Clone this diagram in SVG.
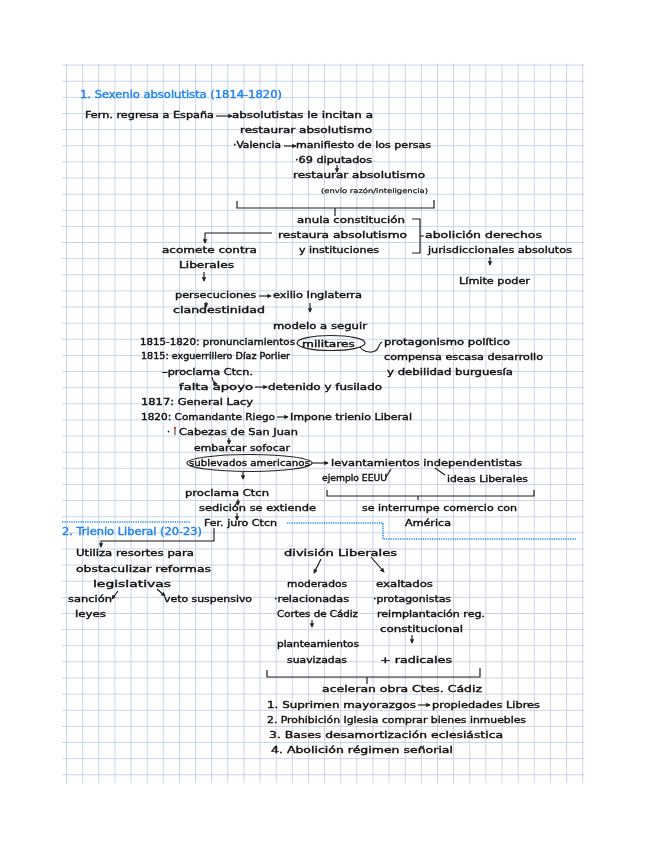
<svg xmlns="http://www.w3.org/2000/svg" width="648" height="848" viewBox="0 0 648 848">
<defs>
<marker id="ah" viewBox="0 0 6 6" refX="5" refY="3" markerWidth="4.5" markerHeight="4.5" markerUnits="userSpaceOnUse" orient="auto"><path d="M0 0L6 3L0 6Z" fill="#222"/></marker>
<pattern id="cells" x="66" y="64.6" width="16.13" height="16.13" patternUnits="userSpaceOnUse"><path d="M0 0V16.13M0 0H16.13" fill="none" stroke="#c6d4e8" stroke-width="2"/></pattern>
<filter id="soft" x="-5%" y="-5%" width="110%" height="110%"><feGaussianBlur stdDeviation="0.35"/></filter>
</defs>
<style>
text{font-family:"DejaVu Sans","Liberation Sans",sans-serif;font-size:9.5px;fill:#111;stroke:#111;stroke-width:.4}
.b{fill:#1f82f2;stroke:#1f82f2;font-size:10.5px}
.s{font-size:6.5px;stroke-width:.2}
.c{fill:none;stroke:#222;stroke-width:1.2}
.a{fill:none;stroke:#111;stroke-width:1.1;marker-end:url(#ah)}
.d{fill:none;stroke:#2f8ef2;stroke-width:1.6;stroke-dasharray:1.3 1}
</style>
<rect width="648" height="848" fill="#fff"/>
<g id="grid"><rect x="62" y="64" width="522" height="719" fill="url(#cells)"/></g>
<g id="content" filter="url(#soft)">
<g id="connectors">
<path class="a" d="M216 116H232"/><path class="a" d="M284 146H296"/><path class="a" d="M337 165V172"/>
<path class="c" d="M237 201V208H434V200M335 208V216"/>
<path class="a" d="M272 233H205V243"/><path class="a" d="M204 272V281"/>
<path class="c" d="M412 219H420V253H412M420 236H424"/>
<path class="a" d="M490 257V265"/>
<path class="a" d="M259 296H271"/><path class="a" d="M206 302V307"/><path class="a" d="M310 303V312"/>
<path class="c" d="M360 347C364 353 375 354 378 348Q380 343 382 342"/>
<path class="a" d="M212 377Q213 383 217 384"/><path class="a" d="M255 387H267"/>
<path class="a" d="M277 417H288"/><path class="a" d="M229 438V444"/>
<path class="a" d="M312 463H328"/><path class="c" d="M391 469L386 477"/><path class="c" d="M435 468L445 475"/>
<path class="a" d="M243 472V479"/><path class="a" d="M238 499V505"/><path class="a" d="M237 513V520"/>
<path class="c" d="M327 490V496H534V490M418 496V500"/>
<path class="d" d="M62 522H190"/><path class="d" d="M287 523H383V539H577"/>
<path class="a" d="M214 528V541H101V547"/>
<path class="a" d="M118 591L112 599"/><path class="a" d="M157 589L165 596"/>
<path class="a" d="M321 559L314 573"/><path class="a" d="M371 557L384 572"/>
<path class="a" d="M312 620V627"/><path class="a" d="M412 635V643"/>
<path class="c" d="M267 670V677H480V668M367 677V684"/>
<path class="a" d="M418 705H430"/>
</g>
<g id="n-title1"><text class="b" x="80" y="98" textLength="202" lengthAdjust="spacingAndGlyphs">1. Sexenio absolutista (1814-1820)</text></g>
<g id="n1"><text x="85" y="118" textLength="129" lengthAdjust="spacingAndGlyphs">Fern. regresa a España</text></g>
<g id="n2"><text x="232" y="118" textLength="141" lengthAdjust="spacingAndGlyphs">absolutistas le incitan a</text></g>
<g id="n3"><text x="240" y="133" textLength="132" lengthAdjust="spacingAndGlyphs">restaurar absolutismo</text></g>
<g id="n4"><text x="233" y="148" textLength="48" lengthAdjust="spacingAndGlyphs">·Valencia</text></g>
<g id="n5"><text x="296" y="148" textLength="135" lengthAdjust="spacingAndGlyphs">manifiesto de los persas</text></g>
<g id="n6"><text x="295" y="163" textLength="77" lengthAdjust="spacingAndGlyphs">·69 diputados</text></g>
<g id="n7"><text x="293" y="178" textLength="132" lengthAdjust="spacingAndGlyphs">restaurar absolutismo</text></g>
<g id="n8"><text class="s" x="321" y="193" textLength="107" lengthAdjust="spacingAndGlyphs">(envío razón/inteligencia)</text></g>
<g id="n9"><text x="297" y="223" textLength="108" lengthAdjust="spacingAndGlyphs">anula constitución</text></g>
<g id="n10"><text x="278" y="238" textLength="129" lengthAdjust="spacingAndGlyphs">restaura absolutismo</text></g>
<g id="n11"><text x="299" y="253" textLength="80" lengthAdjust="spacingAndGlyphs">y instituciones</text></g>
<g id="n12"><text x="162" y="253" textLength="95" lengthAdjust="spacingAndGlyphs">acomete contra</text></g>
<g id="n13"><text x="179" y="268" textLength="55" lengthAdjust="spacingAndGlyphs">Liberales</text></g>
<g id="n14"><text x="425" y="238" textLength="117" lengthAdjust="spacingAndGlyphs">abolición derechos</text></g>
<g id="n15"><text x="428" y="253" textLength="144" lengthAdjust="spacingAndGlyphs">jurisdiccionales absolutos</text></g>
<g id="n16"><text x="459" y="284" textLength="71" lengthAdjust="spacingAndGlyphs">Límite poder</text></g>
<g id="n17"><text x="175" y="298" textLength="81" lengthAdjust="spacingAndGlyphs">persecuciones</text></g>
<g id="n18"><text x="273" y="298" textLength="89" lengthAdjust="spacingAndGlyphs">exilio Inglaterra</text></g>
<g id="n19"><text x="173" y="313" textLength="92" lengthAdjust="spacingAndGlyphs">clandestinidad</text></g>
<g id="n20"><text x="273" y="329" textLength="94" lengthAdjust="spacingAndGlyphs">modelo a seguir</text></g>
<g id="n21"><text x="140" y="345" textLength="155" lengthAdjust="spacingAndGlyphs">1815-1820: pronunciamientos</text></g>
<g id="n22"><ellipse class="c" cx="331" cy="343" rx="34" ry="7.5"/><text x="302" y="347" textLength="53" lengthAdjust="spacingAndGlyphs">militares</text></g>
<g id="n23"><text x="384" y="345" textLength="126" lengthAdjust="spacingAndGlyphs">protagonismo político</text></g>
<g id="n24"><text x="384" y="360" textLength="159" lengthAdjust="spacingAndGlyphs">compensa escasa desarrollo</text></g>
<g id="n25"><text x="387" y="375" textLength="126" lengthAdjust="spacingAndGlyphs">y debilidad burguesía</text></g>
<g id="n26"><text x="141" y="359" textLength="149" lengthAdjust="spacingAndGlyphs">1815: exguerrillero Díaz Porlier</text></g>
<g id="n27"><text x="162" y="375" textLength="91" lengthAdjust="spacingAndGlyphs">–proclama Ctcn.</text></g>
<g id="n28"><text x="179" y="390" textLength="74" lengthAdjust="spacingAndGlyphs">falta apoyo</text></g>
<g id="n29"><text x="268" y="390" textLength="114" lengthAdjust="spacingAndGlyphs">detenido y fusilado</text></g>
<g id="n30"><text x="141" y="405" textLength="112" lengthAdjust="spacingAndGlyphs">1817: General Lacy</text></g>
<g id="n31"><text x="141" y="420" textLength="134" lengthAdjust="spacingAndGlyphs">1820: Comandante Riego</text></g>
<g id="n32"><text x="290" y="420" textLength="122" lengthAdjust="spacingAndGlyphs">Impone trienio Liberal</text></g>
<g id="n33"><text x="167" y="435">·</text><path d="M175 429V435" stroke="#333" stroke-width="1"/><circle cx="175" cy="428" r="1.2" fill="#e23b2e"/><text x="179" y="435" textLength="119" lengthAdjust="spacingAndGlyphs">Cabezas de San Juan</text></g>
<g id="n34"><text x="194" y="451" textLength="96" lengthAdjust="spacingAndGlyphs">embarcar sofocar</text></g>
<g id="n35"><ellipse class="c" cx="249.500" cy="463" rx="62.500" ry="8.500"/><text x="189" y="466" textLength="121" lengthAdjust="spacingAndGlyphs">sublevados americanos</text></g>
<g id="n36"><text x="331" y="466" textLength="191" lengthAdjust="spacingAndGlyphs">levantamientos independentistas</text></g>
<g id="n37"><text x="322" y="481" textLength="65" lengthAdjust="spacingAndGlyphs">ejemplo EEUU</text></g>
<g id="n38"><text x="447" y="482" textLength="81" lengthAdjust="spacingAndGlyphs">ideas Liberales</text></g>
<g id="n39"><text x="185" y="496" textLength="84" lengthAdjust="spacingAndGlyphs">proclama Ctcn</text></g>
<g id="n40"><text x="199" y="511" textLength="117" lengthAdjust="spacingAndGlyphs">sedición se extiende</text></g>
<g id="n41"><text x="362" y="511" textLength="155" lengthAdjust="spacingAndGlyphs">se interrumpe comercio con</text></g>
<g id="n42"><text x="204" y="526" textLength="73" lengthAdjust="spacingAndGlyphs">Fer. juro Ctcn</text></g>
<g id="n43"><text x="405" y="526" textLength="46" lengthAdjust="spacingAndGlyphs">América</text></g>
<g id="n-title2"><text class="b" x="62" y="535" textLength="140" lengthAdjust="spacingAndGlyphs">2. Trienio Liberal (20-23)</text></g>
<g id="n44"><text x="76" y="556" textLength="118" lengthAdjust="spacingAndGlyphs">Utiliza resortes para</text></g>
<g id="n45"><text x="76" y="572" textLength="135" lengthAdjust="spacingAndGlyphs">obstaculizar reformas</text></g>
<g id="n46"><text x="93" y="587" textLength="78" lengthAdjust="spacingAndGlyphs">legislativas</text></g>
<g id="n47"><text x="68" y="602" textLength="44" lengthAdjust="spacingAndGlyphs">sanción</text></g>
<g id="n48"><text x="75" y="617" textLength="31" lengthAdjust="spacingAndGlyphs">leyes</text></g>
<g id="n49"><text x="164" y="602" textLength="88" lengthAdjust="spacingAndGlyphs">veto suspensivo</text></g>
<g id="n50"><text x="284" y="556" textLength="113" lengthAdjust="spacingAndGlyphs">división Liberales</text></g>
<g id="n51"><text x="287" y="587" textLength="60" lengthAdjust="spacingAndGlyphs">moderados</text></g>
<g id="n52"><text x="376" y="587" textLength="57" lengthAdjust="spacingAndGlyphs">exaltados</text></g>
<g id="n53"><text x="274" y="602" textLength="75" lengthAdjust="spacingAndGlyphs">·relacionadas</text></g>
<g id="n54"><text x="373" y="602" textLength="78" lengthAdjust="spacingAndGlyphs">·protagonistas</text></g>
<g id="n55"><text x="277" y="617" textLength="81" lengthAdjust="spacingAndGlyphs">Cortes de Cádiz</text></g>
<g id="n56"><text x="377" y="617" textLength="108" lengthAdjust="spacingAndGlyphs">reimplantación reg.</text></g>
<g id="n57"><text x="380" y="632" textLength="83" lengthAdjust="spacingAndGlyphs">constitucional</text></g>
<g id="n58"><text x="277" y="647" textLength="82" lengthAdjust="spacingAndGlyphs">planteamientos</text></g>
<g id="n59"><text x="287" y="663" textLength="60" lengthAdjust="spacingAndGlyphs">suavizadas</text></g>
<g id="n60"><text x="380" y="663" textLength="72" lengthAdjust="spacingAndGlyphs">+ radicales</text></g>
<g id="n61"><text x="322" y="692" textLength="160" lengthAdjust="spacingAndGlyphs">aceleran obra Ctes. Cádiz</text></g>
<g id="n62"><text x="267" y="708" textLength="149" lengthAdjust="spacingAndGlyphs">1. Suprimen mayorazgos</text></g>
<g id="n63"><text x="432" y="708" textLength="108" lengthAdjust="spacingAndGlyphs">propiedades Libres</text></g>
<g id="n64"><text x="267" y="723" textLength="259" lengthAdjust="spacingAndGlyphs">2. Prohibición Iglesia comprar bienes inmuebles</text></g>
<g id="n65"><text x="269" y="738" textLength="234" lengthAdjust="spacingAndGlyphs">3. Bases desamortización eclesiástica</text></g>
<g id="n66"><text x="271" y="753" textLength="182" lengthAdjust="spacingAndGlyphs">4. Abolición régimen señorial</text></g>
</g>
</svg>
